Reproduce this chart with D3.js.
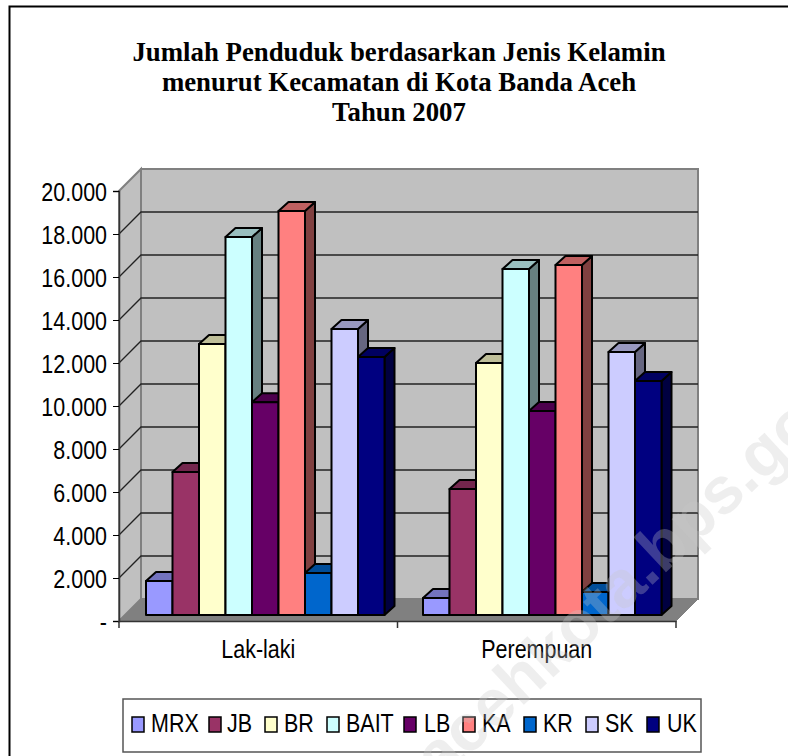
<!DOCTYPE html>
<html lang="en">
<head>
    <meta charset="UTF-8">
    <title>Jumlah Penduduk</title>
    <script src="https://d3js.org/d3.v7.min.js"></script>
    <style>
        html, body { margin: 0; padding: 0; background: #fff; overflow: hidden; }
        svg { display: block; }
        text { font-family: "Liberation Sans", Arial, sans-serif; fill: #000; }
        .title { font-family: "Liberation Serif", "Times New Roman", serif; font-weight: bold; font-size: 26.8px; }
    </style>
</head>
<body>
    <div id="chart"></div>
    <script>
        const categories = ["Lak-laki", "Perempuan"];
        const seriesNames = ["MRX", "JB", "BR", "BAIT", "LB", "KA", "KR", "SK", "UK"];
        const lakiValues = [1580, 6650, 12600, 17580, 9900, 18790, 1950, 13300, 12000];
        const perempuanValues = [790, 5860, 11720, 16090, 9490, 16280, 1070, 12230, 10880];
        const seriesColors = ["#9999ff", "#993366", "#ffffcc", "#ccffff", "#660066", "#ff8080", "#0066cc", "#ccccff", "#000080"];
        const yTicks = [0, 2000, 4000, 6000, 8000, 10000, 12000, 14000, 16000, 18000, 20000];
        const tickLabels = ["-", "2.000", "4.000", "6.000", "8.000", "10.000", "12.000", "14.000", "16.000", "18.000", "20.000"];
        const titleLines = ["Jumlah Penduduk berdasarkan Jenis Kelamin", "menurut Kecamatan di Kota Banda Aceh", "Tahun 2007"];
        const groupValues = [lakiValues, perempuanValues];

        const svg = d3.select("#chart").append("svg").attr("width", 788).attr("height", 756);

        // the frame only shows on the top and left, the rest is cropped away
        svg.append("path").attr("d", "M9.5,757V6.5H788")
            .attr("fill", "none").attr("stroke", "#000").attr("stroke-width", 2);

        svg.selectAll(".title").data(titleLines).enter().append("text")
            .attr("class", "title")
            .attr("x", 399).attr("y", (d, i) => 61 + i * 30)
            .attr("text-anchor", "middle")
            .text(d => d);

        // plot geometry
        const x0 = 119, x1 = 676, yBase = 621, yTop = 191;
        const wallDx = 22, wallDy = -22;
        const barBase = 615, depthDx = 10, depthDy = -9;
        const squeeze = 0.81; // labels in the picture are stretched tall

        const y = d3.scaleLinear().domain([0, 20000]).range([yBase, yTop]);
        const xCat = d3.scaleBand().domain(categories).range([x0, x1]);
        const xBar = d3.scaleBand().domain(seriesNames).range([0, 9 * 26.5]);
        const barOffsets = [27, 25.5];

        // left wall, back wall, floor
        const wallGray = "#c0c0c0";
        const wallStroke = "#808080";
        svg.append("path")
            .attr("d", `M${x0},${yBase}L${x0},${yTop}L${x0 + wallDx},${yTop + wallDy}L${x0 + wallDx},${yBase + wallDy}Z`)
            .attr("fill", wallGray).attr("stroke", wallStroke).attr("stroke-width", 2);
        svg.append("rect")
            .attr("x", x0 + wallDx).attr("y", yTop + wallDy)
            .attr("width", x1 - x0).attr("height", yBase - yTop)
            .attr("fill", wallGray).attr("stroke", wallStroke).attr("stroke-width", 2);
        svg.append("path")
            .attr("d", `M${x0},${yBase}L${x0 + wallDx},${yBase + wallDy}L${x1 + wallDx},${yBase + wallDy}L${x1},${yBase}Z`)
            .attr("fill", "#808080").attr("stroke", "#808080");

        // gridlines on left wall and back wall
        svg.selectAll(".grid").data(yTicks.slice(1, -1)).enter().append("path")
            .attr("d", d => `M${x0},${y(d)}L${x0 + wallDx},${y(d) + wallDy}L${x1 + wallDx},${y(d) + wallDy}`)
            .attr("fill", "none").attr("stroke", "#222").attr("stroke-width", 1.3);

        function shade(hex, k) {
            const c = d3.rgb(hex);
            return d3.rgb(c.r * k, c.g * k, c.b * k);
        }

        // bars, left to right inside each group
        categories.forEach((cat, c) => {
            const g = svg.append("g").attr("transform", `translate(${xCat(cat) + barOffsets[c]},0)`);
            const barY = v => barBase - (yBase - y(v));
            seriesNames.forEach((name, i) => {
                const v = groupValues[c][i];
                const left = xBar(name), w = xBar.bandwidth(), top = barY(v);
                const bar = g.append("g").attr("stroke", "#000").attr("stroke-width", 2).attr("stroke-linejoin", "round");
                bar.append("path")
                    .attr("d", `M${left + w},${barBase}L${left + w + depthDx},${barBase + depthDy}L${left + w + depthDx},${top + depthDy}L${left + w},${top}Z`)
                    .attr("fill", shade(seriesColors[i], 0.5));
                bar.append("path")
                    .attr("d", `M${left},${top}L${left + depthDx},${top + depthDy}L${left + w + depthDx},${top + depthDy}L${left + w},${top}Z`)
                    .attr("fill", shade(seriesColors[i], 0.75));
                bar.append("rect")
                    .attr("x", left).attr("y", top).attr("width", w).attr("height", barBase - top)
                    .attr("fill", seriesColors[i]);
            });
        });

        // axes
        const axisY = svg.append("g").attr("transform", `translate(${x0},0)`)
            .call(d3.axisLeft(y).tickValues(yTicks).tickSize(6).tickFormat((d, i) => tickLabels[i]));
        axisY.select(".domain").attr("stroke", "#333").attr("stroke-width", 1.5);
        axisY.selectAll("text").attr("font-size", 26.5)
            .attr("transform", `scale(${squeeze},1)`)
            .attr("x", -12 / squeeze)
            .attr("y", 1);

        const axisX = svg.append("g").attr("transform", `translate(0,${yBase})`)
            .call(d3.axisBottom(xCat).tickSize(0).tickPadding(18));
        axisX.select(".domain").attr("stroke", "#333").attr("stroke-width", 1.5);
        axisX.selectAll("text").attr("font-size", 26.5)
            .attr("transform", `scale(${squeeze},1)`)
            .attr("y", 18);
        svg.selectAll(".xtick").data([x0, (x0 + x1) / 2, x1]).enter().append("line")
            .attr("x1", d => d).attr("x2", d => d).attr("y1", yBase).attr("y2", yBase + 7)
            .attr("stroke", "#333").attr("stroke-width", 1.5);

        // legend
        const legendX = [132, 209, 265, 327, 404, 463, 524, 586, 647];
        const legendTextX = [151, 227, 284, 346, 424, 482, 543, 605, 667];
        const legend = svg.append("g");
        legend.append("rect").attr("x", 123).attr("y", 699).attr("width", 578).attr("height", 53)
            .attr("fill", "#fff").attr("stroke", "#555").attr("stroke-width", 1.5);
        seriesNames.forEach((name, i) => {
            legend.append("rect").attr("x", legendX[i]).attr("y", 717).attr("width", 12).attr("height", 15)
                .attr("fill", seriesColors[i]).attr("stroke", "#000").attr("stroke-width", 1.5);
            legend.append("text")
                .attr("transform", `translate(${legendTextX[i]},732) scale(${squeeze},1)`)
                .attr("font-size", 26.5).text(name);
        });

        // watermark over the chart, both ends run off the picture
        svg.append("text")
            .attr("transform", "translate(440,783) rotate(-43)")
            .attr("font-size", 66).attr("font-weight", "bold")
            .style("fill", "#c8c8c8").attr("fill-opacity", 0.3)
            .text("acehkota.bps.go");
    </script>
</body>
</html>
